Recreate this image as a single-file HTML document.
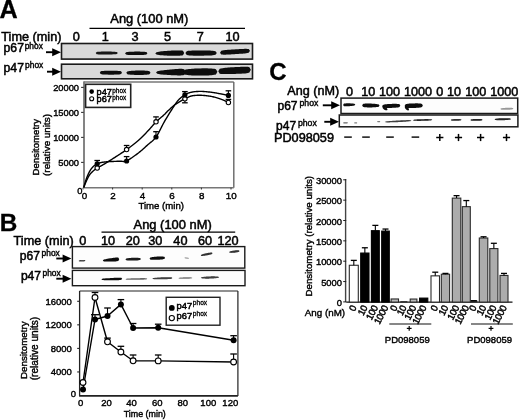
<!DOCTYPE html>
<html><head><meta charset="utf-8"><title>Figure</title>
<style>html,body{margin:0;padding:0;background:#fff;}svg{display:block;}</style></head>
<body><svg width="520" height="420" viewBox="0 0 520 420" font-family='"Liberation Sans", Arial, sans-serif'>
<defs><filter id="bl" x="-20%" y="-100%" width="140%" height="300%"><feGaussianBlur stdDeviation="0.6"/></filter></defs>
<rect width="520" height="420" fill="#fff"/>
<text x="-0.60" y="17.90" font-size="25.2" text-anchor="start" font-weight="bold" fill="#000" stroke="#000" stroke-width="0.3" >A</text>
<text x="110.30" y="23.30" font-size="12.9" text-anchor="start" font-weight="normal" fill="#000" stroke="#000" stroke-width="0.5" >Ang (100 nM)</text>
<line x1="89.50" y1="28.30" x2="245.00" y2="28.30" stroke="#000" stroke-width="1.2" />
<text x="1.30" y="40.60" font-size="12.7" text-anchor="start" font-weight="normal" fill="#000" stroke="#000" stroke-width="0.5" >Time (min)</text>
<text x="76.30" y="40.60" font-size="12.7" text-anchor="middle" font-weight="normal" fill="#000" stroke="#000" stroke-width="0.5" >0</text>
<text x="105.30" y="40.60" font-size="12.7" text-anchor="middle" font-weight="normal" fill="#000" stroke="#000" stroke-width="0.5" >1</text>
<text x="135.00" y="40.60" font-size="12.7" text-anchor="middle" font-weight="normal" fill="#000" stroke="#000" stroke-width="0.5" >3</text>
<text x="167.50" y="40.60" font-size="12.7" text-anchor="middle" font-weight="normal" fill="#000" stroke="#000" stroke-width="0.5" >5</text>
<text x="200.20" y="40.60" font-size="12.7" text-anchor="middle" font-weight="normal" fill="#000" stroke="#000" stroke-width="0.5" >7</text>
<text x="232.50" y="40.60" font-size="12.7" text-anchor="middle" font-weight="normal" fill="#000" stroke="#000" stroke-width="0.5" >10</text>
<rect x="61.50" y="43.50" width="191.00" height="15.60" fill="#d9d9d9" stroke="#1a1a1a" stroke-width="1.6" />
<rect x="61.50" y="64.20" width="191.00" height="14.60" fill="#d9d9d9" stroke="#1a1a1a" stroke-width="1.6" />
<text x="3.60" y="52.30" font-size="12.2" text-anchor="start" font-weight="normal" fill="#000" stroke="#000" stroke-width="0.5" >p67</text>
<text x="24.70" y="48.50" font-size="8.4" text-anchor="start" font-weight="normal" fill="#000" stroke="#000" stroke-width="0.4" >phox</text>
<text x="3.60" y="72.20" font-size="12.2" text-anchor="start" font-weight="normal" fill="#000" stroke="#000" stroke-width="0.5" >p47</text>
<text x="25.10" y="68.20" font-size="8.4" text-anchor="start" font-weight="normal" fill="#000" stroke="#000" stroke-width="0.4" >phox</text>
<line x1="46.00" y1="52.20" x2="53.20" y2="52.20" stroke="#000" stroke-width="1.9" />
<polygon points="61.00,52.20 52.20,48.20 52.20,56.20" fill="#000"/>
<line x1="47.00" y1="71.70" x2="53.20" y2="71.70" stroke="#000" stroke-width="1.9" />
<polygon points="61.00,71.70 52.20,67.70 52.20,75.70" fill="#000"/>
<polygon points="95.70,53.10 96.66,52.02 97.62,51.87 98.58,51.77 99.54,51.70 100.50,51.65 101.47,51.62 102.43,51.59 103.39,51.57 104.35,51.56 105.31,51.55 106.27,51.55 107.23,51.55 108.19,51.56 109.15,51.57 110.11,51.59 111.07,51.61 112.03,51.64 113.00,51.68 113.96,51.73 114.92,51.80 115.88,51.89 116.84,52.04 117.80,53.00 117.80,53.00 116.84,53.97 115.88,54.13 114.92,54.23 113.96,54.31 113.00,54.37 112.03,54.41 111.07,54.45 110.11,54.48 109.15,54.51 108.19,54.53 107.23,54.54 106.27,54.55 105.31,54.56 104.35,54.56 103.39,54.56 102.43,54.55 101.47,54.53 100.50,54.50 99.54,54.46 98.58,54.41 97.62,54.32 96.66,54.17 95.70,53.10" fill="#0a0a0a" fill-opacity="0.95" filter="url(#bl)" transform="rotate(0 106.75 53.05)"/>
<polygon points="125.10,53.40 126.07,52.17 127.04,51.99 128.01,51.88 128.98,51.80 129.95,51.75 130.92,51.70 131.89,51.67 132.86,51.64 133.83,51.63 134.80,51.61 135.77,51.60 136.73,51.60 137.70,51.60 138.67,51.60 139.64,51.61 140.61,51.63 141.58,51.65 142.55,51.69 143.52,51.74 144.49,51.81 145.46,51.91 146.43,52.08 147.40,53.30 147.40,53.30 146.43,54.53 145.46,54.71 144.49,54.82 143.52,54.90 142.55,54.95 141.58,55.00 140.61,55.03 139.64,55.06 138.67,55.07 137.70,55.09 136.73,55.10 135.77,55.10 134.80,55.10 133.83,55.10 132.86,55.09 131.89,55.07 130.92,55.05 129.95,55.01 128.98,54.96 128.01,54.89 127.04,54.79 126.07,54.62 125.10,53.40" fill="#0a0a0a" fill-opacity="1" filter="url(#bl)" transform="rotate(0 136.25 53.35)"/>
<polygon points="155.30,53.40 156.56,52.17 157.81,51.89 159.07,51.69 160.33,51.51 161.58,51.36 162.84,51.23 164.10,51.11 165.35,51.00 166.61,50.91 167.87,50.82 169.12,50.74 170.38,50.66 171.63,50.60 172.89,50.54 174.15,50.49 175.40,50.45 176.66,50.43 177.92,50.42 179.17,50.43 180.43,50.49 181.69,50.60 182.94,50.84 184.20,53.00 184.20,53.00 182.94,55.19 181.69,55.47 180.43,55.62 179.17,55.70 177.92,55.76 176.66,55.78 175.40,55.79 174.15,55.79 172.89,55.77 171.63,55.75 170.38,55.72 169.12,55.68 167.87,55.63 166.61,55.58 165.35,55.52 164.10,55.44 162.84,55.36 161.58,55.26 160.33,55.15 159.07,55.01 157.81,54.84 156.56,54.60 155.30,53.40" fill="#0a0a0a" fill-opacity="1" filter="url(#bl)" transform="rotate(0 169.75 53.20)"/>
<polygon points="185.40,53.10 186.77,51.13 188.13,50.87 189.50,50.72 190.86,50.63 192.23,50.57 193.59,50.52 194.96,50.49 196.32,50.47 197.69,50.46 199.05,50.45 200.42,50.45 201.78,50.45 203.15,50.46 204.51,50.47 205.88,50.49 207.24,50.51 208.61,50.54 209.97,50.59 211.34,50.65 212.70,50.75 214.07,50.89 215.43,51.14 216.80,53.00 216.80,53.00 215.43,54.87 214.07,55.12 212.70,55.28 211.34,55.38 209.97,55.45 208.61,55.51 207.24,55.55 205.88,55.58 204.51,55.61 203.15,55.63 201.78,55.64 200.42,55.65 199.05,55.66 197.69,55.66 196.32,55.66 194.96,55.65 193.59,55.63 192.23,55.59 190.86,55.54 189.50,55.45 188.13,55.31 186.77,55.07 185.40,53.10" fill="#0a0a0a" fill-opacity="1" filter="url(#bl)" transform="rotate(0 201.10 53.05)"/>
<polygon points="220.00,52.70 221.30,50.79 222.61,50.48 223.91,50.27 225.22,50.11 226.52,49.98 227.83,49.86 229.13,49.76 230.43,49.66 231.74,49.57 233.04,49.48 234.35,49.39 235.65,49.31 236.96,49.23 238.26,49.15 239.57,49.08 240.87,49.01 242.17,48.95 243.48,48.91 244.78,48.87 246.09,48.87 247.39,48.91 248.70,49.06 250.00,50.80 250.00,50.80 248.70,52.71 247.39,53.02 246.09,53.23 244.78,53.39 243.48,53.52 242.17,53.64 240.87,53.74 239.57,53.84 238.26,53.93 236.96,54.02 235.65,54.11 234.35,54.19 233.04,54.27 231.74,54.35 230.43,54.42 229.13,54.49 227.83,54.55 226.52,54.59 225.22,54.63 223.91,54.63 222.61,54.59 221.30,54.44 220.00,52.70" fill="#0a0a0a" fill-opacity="1" filter="url(#bl)" transform="rotate(0 235.00 51.75)"/>
<polygon points="99.80,72.70 100.77,71.31 101.73,71.12 102.70,71.00 103.66,70.93 104.63,70.87 105.59,70.83 106.56,70.80 107.52,70.78 108.49,70.76 109.45,70.76 110.42,70.75 111.38,70.75 112.35,70.76 113.31,70.76 114.28,70.78 115.24,70.80 116.21,70.83 117.17,70.87 118.14,70.93 119.10,71.00 120.07,71.12 121.03,71.31 122.00,72.70 122.00,72.70 121.03,74.09 120.07,74.28 119.10,74.40 118.14,74.47 117.17,74.53 116.21,74.57 115.24,74.60 114.28,74.62 113.31,74.64 112.35,74.64 111.38,74.65 110.42,74.65 109.45,74.64 108.49,74.64 107.52,74.62 106.56,74.60 105.59,74.57 104.63,74.53 103.66,74.47 102.70,74.40 101.73,74.28 100.77,74.09 99.80,72.70" fill="#0a0a0a" fill-opacity="1" filter="url(#bl)" transform="rotate(0 110.90 72.70)"/>
<polygon points="126.30,72.80 127.35,71.40 128.40,71.16 129.46,71.01 130.51,70.89 131.56,70.81 132.61,70.74 133.67,70.68 134.72,70.64 135.77,70.60 136.82,70.57 137.87,70.56 138.93,70.55 139.98,70.54 141.03,70.55 142.08,70.56 143.13,70.58 144.19,70.62 145.24,70.67 146.29,70.74 147.34,70.83 148.40,70.97 149.45,71.20 150.50,72.70 150.50,72.70 149.45,74.21 148.40,74.44 147.34,74.59 146.29,74.70 145.24,74.77 144.19,74.83 143.13,74.88 142.08,74.91 141.03,74.93 139.98,74.94 138.93,74.95 137.87,74.95 136.82,74.94 135.77,74.92 134.72,74.90 133.67,74.86 132.61,74.81 131.56,74.75 130.51,74.67 129.46,74.56 128.40,74.42 127.35,74.19 126.30,72.80" fill="#0a0a0a" fill-opacity="1" filter="url(#bl)" transform="rotate(0 138.40 72.75)"/>
<polygon points="156.00,72.60 157.28,71.29 158.57,71.00 159.85,70.77 161.13,70.57 162.41,70.40 163.70,70.24 164.98,70.09 166.26,69.95 167.54,69.81 168.83,69.68 170.11,69.56 171.39,69.44 172.67,69.33 173.96,69.22 175.24,69.11 176.52,69.02 177.80,68.93 179.09,68.86 180.37,68.82 181.65,68.82 182.93,68.90 184.22,69.15 185.50,72.00 185.50,72.00 184.22,74.91 182.93,75.21 181.65,75.34 180.37,75.39 179.09,75.40 177.80,75.38 176.52,75.35 175.24,75.30 173.96,75.25 172.67,75.20 171.39,75.13 170.11,75.07 168.83,74.99 167.54,74.92 166.26,74.84 164.98,74.75 163.70,74.65 162.41,74.54 161.13,74.42 159.85,74.27 158.57,74.10 157.28,73.85 156.00,72.60" fill="#0a0a0a" fill-opacity="1" filter="url(#bl)" transform="rotate(0 170.75 72.30)"/>
<polygon points="183.00,72.20 184.50,69.89 185.99,69.50 187.49,69.24 188.98,69.05 190.48,68.90 191.97,68.78 193.47,68.68 194.97,68.59 196.46,68.52 197.96,68.47 199.45,68.42 200.95,68.38 202.44,68.36 203.94,68.34 205.43,68.34 206.93,68.35 208.43,68.38 209.92,68.44 211.42,68.52 212.91,68.65 214.41,68.85 215.90,69.20 217.40,71.80 217.40,71.80 215.90,74.43 214.41,74.82 212.91,75.06 211.42,75.22 209.92,75.34 208.43,75.43 206.93,75.49 205.43,75.54 203.94,75.57 202.44,75.59 200.95,75.60 199.45,75.60 197.96,75.59 196.46,75.56 194.97,75.53 193.47,75.48 191.97,75.41 190.48,75.33 188.98,75.21 187.49,75.05 185.99,74.83 184.50,74.48 183.00,72.20" fill="#0a0a0a" fill-opacity="1" filter="url(#bl)" transform="rotate(0 200.20 72.00)"/>
<polygon points="218.30,71.30 219.71,68.82 221.13,68.43 222.54,68.18 223.95,67.99 225.37,67.83 226.78,67.70 228.19,67.58 229.60,67.47 231.02,67.37 232.43,67.28 233.84,67.19 235.26,67.11 236.67,67.03 238.08,66.96 239.50,66.89 240.91,66.83 242.32,66.78 243.73,66.74 245.15,66.74 246.56,66.77 247.97,66.87 249.39,67.13 250.80,69.80 250.80,69.80 249.39,72.60 247.97,72.99 246.56,73.22 245.15,73.39 243.73,73.51 242.32,73.61 240.91,73.69 239.50,73.76 238.08,73.82 236.67,73.87 235.26,73.93 233.84,73.97 232.43,74.01 231.02,74.05 229.60,74.08 228.19,74.11 226.78,74.12 225.37,74.12 223.95,74.09 222.54,74.03 221.13,73.90 219.71,73.65 218.30,71.30" fill="#0a0a0a" fill-opacity="1" filter="url(#bl)" transform="rotate(0 234.55 70.55)"/>
<line x1="83.70" y1="82.00" x2="233.80" y2="82.00" stroke="#777" stroke-width="1.5" />
<line x1="233.80" y1="82.00" x2="233.80" y2="187.70" stroke="#666" stroke-width="1.4" />
<line x1="84.00" y1="81.50" x2="84.00" y2="187.70" stroke="#777" stroke-width="1.8" />
<line x1="83.70" y1="187.70" x2="233.80" y2="187.70" stroke="#777" stroke-width="1.6" />
<line x1="81.10" y1="162.40" x2="83.70" y2="162.40" stroke="#333" stroke-width="1.1" />
<text x="79.00" y="165.80" font-size="9.3" text-anchor="end" font-weight="normal" fill="#000" stroke="#000" stroke-width="0.4" >5000</text>
<line x1="81.10" y1="137.40" x2="83.70" y2="137.40" stroke="#333" stroke-width="1.1" />
<text x="79.00" y="140.80" font-size="9.3" text-anchor="end" font-weight="normal" fill="#000" stroke="#000" stroke-width="0.4" >10000</text>
<line x1="81.10" y1="112.40" x2="83.70" y2="112.40" stroke="#333" stroke-width="1.1" />
<text x="79.00" y="115.80" font-size="9.3" text-anchor="end" font-weight="normal" fill="#000" stroke="#000" stroke-width="0.4" >15000</text>
<line x1="81.10" y1="87.40" x2="83.70" y2="87.40" stroke="#333" stroke-width="1.1" />
<text x="79.00" y="90.80" font-size="9.3" text-anchor="end" font-weight="normal" fill="#000" stroke="#000" stroke-width="0.4" >20000</text>
<text x="82.40" y="194.20" font-size="9.3" text-anchor="end" font-weight="normal" fill="#000" stroke="#000" stroke-width="0.4" >0</text>
<line x1="83.00" y1="187.70" x2="83.00" y2="189.50" stroke="#333" stroke-width="1" />
<text x="84.60" y="199.20" font-size="9.8" text-anchor="middle" font-weight="normal" fill="#000" stroke="#000" stroke-width="0.4" >0</text>
<line x1="112.60" y1="187.70" x2="112.60" y2="189.50" stroke="#333" stroke-width="1" />
<text x="112.90" y="199.20" font-size="9.8" text-anchor="middle" font-weight="normal" fill="#000" stroke="#000" stroke-width="0.4" >2</text>
<line x1="142.20" y1="187.70" x2="142.20" y2="189.50" stroke="#333" stroke-width="1" />
<text x="142.50" y="199.20" font-size="9.8" text-anchor="middle" font-weight="normal" fill="#000" stroke="#000" stroke-width="0.4" >4</text>
<line x1="171.80" y1="187.70" x2="171.80" y2="189.50" stroke="#333" stroke-width="1" />
<text x="172.10" y="199.20" font-size="9.8" text-anchor="middle" font-weight="normal" fill="#000" stroke="#000" stroke-width="0.4" >6</text>
<line x1="201.40" y1="187.70" x2="201.40" y2="189.50" stroke="#333" stroke-width="1" />
<text x="201.70" y="199.20" font-size="9.8" text-anchor="middle" font-weight="normal" fill="#000" stroke="#000" stroke-width="0.4" >8</text>
<line x1="231.00" y1="187.70" x2="231.00" y2="189.50" stroke="#333" stroke-width="1" />
<text x="231.30" y="199.20" font-size="9.8" text-anchor="middle" font-weight="normal" fill="#000" stroke="#000" stroke-width="0.4" >10</text>
<text x="161.20" y="209.40" font-size="9.6" text-anchor="middle" font-weight="normal" fill="#000" stroke="#000" stroke-width="0.4" >Time (min)</text>
<text x="0.00" y="0.00" font-size="9.6" text-anchor="middle" font-weight="normal" fill="#000" stroke="#000" stroke-width="0.4" transform="translate(39.0 147.2) rotate(-90)">Densitometry</text>
<text x="0.00" y="0.00" font-size="9.85" text-anchor="middle" font-weight="normal" fill="#000" stroke="#000" stroke-width="0.4" transform="translate(50.4 145.0) rotate(-90)">(relative units)</text>
<rect x="85.60" y="84.30" width="45.10" height="23.10" fill="#fff" stroke="#222" stroke-width="1.6" />
<circle cx="91.70" cy="91.60" r="2.3" fill="#000"/>
<circle cx="91.70" cy="98.80" r="2.0" fill="#fff" stroke="#000" stroke-width="1.1"/>
<text x="96.60" y="95.10" font-size="9.2" text-anchor="start" font-weight="normal" fill="#000" stroke="#000" stroke-width="0.5" >p47</text>
<text x="112.30" y="93.00" font-size="6.4" text-anchor="start" font-weight="normal" fill="#000" stroke="#000" stroke-width="0.3" >phox</text>
<text x="96.60" y="101.80" font-size="9.2" text-anchor="start" font-weight="normal" fill="#000" stroke="#000" stroke-width="0.5" >p67</text>
<text x="112.30" y="100.00" font-size="6.4" text-anchor="start" font-weight="normal" fill="#000" stroke="#000" stroke-width="0.3" >phox</text>
<polyline points="83.70,187.60 83.91,186.90 84.11,186.19 84.31,185.48 84.50,184.77 84.70,184.06 84.90,183.35 85.10,182.64 85.31,181.94 85.52,181.24 85.74,180.55 85.96,179.87 86.20,179.20 86.45,178.53 86.70,177.86 86.96,177.18 87.23,176.51 87.50,175.84 87.78,175.19 88.06,174.54 88.34,173.91 88.63,173.30 88.92,172.71 89.21,172.14 89.50,171.60 89.79,171.09 90.09,170.59 90.39,170.12 90.69,169.66 91.00,169.22 91.31,168.80 91.62,168.40 91.93,168.01 92.24,167.63 92.56,167.28 92.88,166.93 93.20,166.60 93.52,166.29 93.83,165.99 94.14,165.72 94.44,165.46 94.75,165.22 95.07,164.99 95.39,164.77 95.72,164.56 96.07,164.36 96.43,164.17 96.80,163.98 97.20,163.80 97.61,163.62 98.03,163.45 98.45,163.29 98.88,163.14 99.33,163.00 99.79,162.87 100.27,162.74 100.76,162.62 101.28,162.51 101.83,162.40 102.40,162.30 103.00,162.20 103.64,162.11 104.33,162.03 105.05,161.95 105.80,161.89 106.57,161.82 107.36,161.77 108.16,161.72 108.96,161.67 109.75,161.63 110.52,161.58 111.27,161.54 112.00,161.50 112.71,161.46 113.41,161.43 114.10,161.40 114.79,161.37 115.48,161.35 116.15,161.33 116.82,161.31 117.47,161.29 118.12,161.27 118.76,161.25 119.39,161.23 120.00,161.20 120.58,161.19 121.12,161.22 121.63,161.28 122.12,161.34 122.60,161.41 123.08,161.46 123.57,161.48 124.09,161.47 124.64,161.41 125.23,161.28 125.88,161.09 126.60,160.80 127.39,160.42 128.26,159.95 129.18,159.42 130.16,158.81 131.16,158.16 132.19,157.48 133.22,156.76 134.26,156.03 135.27,155.30 136.26,154.57 137.21,153.87 138.10,153.20 138.95,152.55 139.77,151.89 140.57,151.23 141.36,150.57 142.12,149.91 142.88,149.24 143.62,148.57 144.36,147.90 145.09,147.22 145.82,146.55 146.56,145.87 147.30,145.20 148.04,144.55 148.78,143.93 149.52,143.33 150.25,142.74 150.98,142.15 151.71,141.55 152.43,140.92 153.15,140.26 153.86,139.55 154.58,138.77 155.29,137.93 156.00,137.00 156.71,135.97 157.42,134.83 158.13,133.61 158.84,132.33 159.54,130.99 160.24,129.62 160.94,128.25 161.63,126.87 162.31,125.52 162.98,124.22 163.65,122.97 164.30,121.80 164.94,120.69 165.57,119.61 166.19,118.56 166.81,117.53 167.41,116.53 168.01,115.54 168.61,114.58 169.19,113.64 169.78,112.71 170.35,111.79 170.93,110.89 171.50,110.00 172.06,109.12 172.62,108.24 173.16,107.37 173.70,106.52 174.24,105.69 174.77,104.87 175.30,104.07 175.83,103.30 176.36,102.55 176.90,101.84 177.45,101.15 178.00,100.50 178.56,99.88 179.13,99.30 179.69,98.74 180.27,98.21 180.84,97.70 181.42,97.23 182.00,96.77 182.58,96.34 183.16,95.92 183.74,95.53 184.32,95.16 184.90,94.80 185.47,94.46 186.03,94.15 186.59,93.87 187.14,93.60 187.69,93.36 188.24,93.14 188.81,92.93 189.39,92.74 189.98,92.56 190.59,92.40 191.23,92.25 191.90,92.10 192.59,91.97 193.31,91.85 194.05,91.74 194.80,91.66 195.58,91.58 196.36,91.52 197.16,91.47 197.97,91.43 198.80,91.41 199.62,91.40 200.46,91.39 201.30,91.40 202.16,91.42 203.04,91.46 203.93,91.52 204.85,91.59 205.77,91.67 206.70,91.76 207.63,91.85 208.55,91.96 209.47,92.07 210.36,92.18 211.24,92.29 212.10,92.40 212.94,92.51 213.78,92.63 214.61,92.76 215.43,92.90 216.24,93.03 217.04,93.18 217.83,93.32 218.60,93.46 219.36,93.60 220.09,93.74 220.81,93.87 221.50,94.00 222.16,94.12 222.79,94.24 223.40,94.36 223.99,94.48 224.55,94.60 225.11,94.71 225.65,94.83 226.19,94.94 226.73,95.05 227.28,95.17 227.83,95.28 228.40,95.40" fill="none" stroke="#000" stroke-width="1.4" stroke-linejoin="round"/>
<polyline points="83.70,187.60 83.91,187.08 84.11,186.57 84.31,186.05 84.50,185.54 84.70,185.03 84.90,184.51 85.10,184.00 85.31,183.48 85.52,182.96 85.74,182.44 85.96,181.92 86.20,181.40 86.45,180.87 86.70,180.32 86.96,179.76 87.23,179.19 87.50,178.63 87.78,178.06 88.06,177.51 88.34,176.96 88.63,176.44 88.92,175.93 89.21,175.45 89.50,175.00 89.79,174.58 90.09,174.18 90.39,173.81 90.69,173.45 91.00,173.11 91.31,172.79 91.62,172.47 91.93,172.17 92.24,171.87 92.56,171.58 92.88,171.29 93.20,171.00 93.51,170.72 93.81,170.46 94.09,170.21 94.37,169.98 94.65,169.75 94.94,169.53 95.25,169.30 95.57,169.07 95.93,168.83 96.31,168.57 96.73,168.30 97.20,168.00 97.71,167.69 98.25,167.37 98.83,167.04 99.44,166.71 100.07,166.36 100.73,166.01 101.40,165.64 102.10,165.26 102.81,164.87 103.53,164.46 104.26,164.04 105.00,163.60 105.75,163.15 106.52,162.68 107.31,162.19 108.11,161.69 108.93,161.18 109.76,160.66 110.61,160.12 111.47,159.57 112.34,159.02 113.22,158.45 114.10,157.88 115.00,157.30 115.91,156.71 116.84,156.11 117.79,155.50 118.76,154.88 119.73,154.25 120.71,153.61 121.70,152.96 122.69,152.30 123.68,151.64 124.66,150.96 125.64,150.28 126.60,149.60 127.56,148.91 128.54,148.20 129.51,147.49 130.49,146.76 131.47,146.03 132.44,145.29 133.41,144.55 134.36,143.80 135.30,143.05 136.22,142.30 137.12,141.55 138.00,140.80 138.85,140.05 139.68,139.29 140.49,138.54 141.28,137.78 142.05,137.02 142.82,136.25 143.57,135.48 144.32,134.71 145.07,133.94 145.81,133.16 146.55,132.38 147.30,131.60 148.05,130.81 148.79,130.00 149.53,129.18 150.26,128.35 150.99,127.52 151.71,126.69 152.43,125.86 153.15,125.05 153.87,124.25 154.58,123.48 155.29,122.72 156.00,122.00 156.72,121.30 157.46,120.60 158.21,119.92 158.96,119.24 159.71,118.59 160.45,117.95 161.17,117.33 161.87,116.73 162.54,116.16 163.18,115.61 163.76,115.09 164.30,114.60 164.77,114.15 165.17,113.76 165.50,113.41 165.80,113.10 166.06,112.81 166.31,112.53 166.56,112.26 166.81,111.98 167.09,111.68 167.40,111.36 167.77,111.00 168.20,110.60 168.68,110.15 169.20,109.67 169.74,109.17 170.30,108.64 170.89,108.10 171.51,107.54 172.14,106.98 172.79,106.43 173.45,105.87 174.12,105.33 174.81,104.80 175.50,104.30 176.22,103.81 176.97,103.31 177.76,102.81 178.57,102.31 179.39,101.82 180.22,101.34 181.05,100.87 181.87,100.41 182.67,99.97 183.45,99.56 184.19,99.16 184.90,98.80 185.56,98.46 186.18,98.14 186.76,97.84 187.32,97.56 187.87,97.29 188.40,97.04 188.93,96.81 189.48,96.60 190.04,96.40 190.62,96.22 191.24,96.05 191.90,95.90 192.59,95.76 193.31,95.64 194.05,95.54 194.80,95.46 195.58,95.39 196.36,95.34 197.16,95.30 197.97,95.27 198.80,95.26 199.62,95.26 200.46,95.28 201.30,95.30 202.16,95.34 203.04,95.39 203.93,95.46 204.85,95.54 205.77,95.63 206.70,95.74 207.63,95.86 208.55,95.99 209.47,96.12 210.36,96.27 211.24,96.43 212.10,96.60 212.94,96.78 213.78,96.98 214.61,97.19 215.43,97.41 216.24,97.65 217.04,97.89 217.83,98.14 218.60,98.39 219.36,98.64 220.09,98.90 220.81,99.15 221.50,99.40 222.16,99.65 222.79,99.90 223.40,100.15 223.99,100.41 224.55,100.67 225.11,100.93 225.65,101.19 226.19,101.46 226.73,101.72 227.28,101.98 227.83,102.24 228.40,102.50" fill="none" stroke="#000" stroke-width="1.4" stroke-linejoin="round"/>
<line x1="97.20" y1="163.80" x2="97.20" y2="160.50" stroke="#000" stroke-width="1.1" />
<line x1="94.40" y1="160.50" x2="100.00" y2="160.50" stroke="#000" stroke-width="1.3" />
<line x1="126.60" y1="161.00" x2="126.60" y2="156.60" stroke="#000" stroke-width="1.1" />
<line x1="123.80" y1="156.60" x2="129.40" y2="156.60" stroke="#000" stroke-width="1.3" />
<line x1="156.00" y1="137.00" x2="156.00" y2="131.70" stroke="#000" stroke-width="1.1" />
<line x1="153.20" y1="131.70" x2="158.80" y2="131.70" stroke="#000" stroke-width="1.3" />
<line x1="184.90" y1="94.80" x2="184.90" y2="91.60" stroke="#000" stroke-width="1.1" />
<line x1="182.10" y1="91.60" x2="187.70" y2="91.60" stroke="#000" stroke-width="1.3" />
<line x1="228.40" y1="95.40" x2="228.40" y2="90.80" stroke="#000" stroke-width="1.1" />
<line x1="225.60" y1="90.80" x2="231.20" y2="90.80" stroke="#000" stroke-width="1.3" />
<line x1="126.60" y1="149.60" x2="126.60" y2="145.50" stroke="#000" stroke-width="1.1" />
<line x1="123.80" y1="145.50" x2="129.40" y2="145.50" stroke="#000" stroke-width="1.3" />
<line x1="156.00" y1="121.80" x2="156.00" y2="116.90" stroke="#000" stroke-width="1.1" />
<line x1="153.20" y1="116.90" x2="158.80" y2="116.90" stroke="#000" stroke-width="1.3" />
<line x1="184.90" y1="98.80" x2="184.90" y2="102.80" stroke="#000" stroke-width="1.1" />
<line x1="182.10" y1="102.80" x2="187.70" y2="102.80" stroke="#000" stroke-width="1.3" />
<line x1="228.40" y1="102.50" x2="228.40" y2="99.40" stroke="#000" stroke-width="1.1" />
<line x1="225.60" y1="99.40" x2="231.20" y2="99.40" stroke="#000" stroke-width="1.3" />
<circle cx="97.20" cy="168.00" r="2.2" fill="#fff" stroke="#000" stroke-width="1.1"/>
<circle cx="126.60" cy="149.60" r="2.2" fill="#fff" stroke="#000" stroke-width="1.1"/>
<circle cx="156.00" cy="121.80" r="2.2" fill="#fff" stroke="#000" stroke-width="1.1"/>
<circle cx="184.90" cy="98.80" r="2.2" fill="#fff" stroke="#000" stroke-width="1.1"/>
<circle cx="228.40" cy="102.50" r="2.2" fill="#fff" stroke="#000" stroke-width="1.1"/>
<circle cx="97.20" cy="163.80" r="2.6" fill="#000"/>
<circle cx="126.60" cy="161.00" r="2.6" fill="#000"/>
<circle cx="156.00" cy="137.00" r="2.6" fill="#000"/>
<circle cx="184.90" cy="94.80" r="2.6" fill="#000"/>
<circle cx="228.40" cy="95.40" r="2.6" fill="#000"/>
<text x="-0.30" y="230.90" font-size="24.3" text-anchor="start" font-weight="bold" fill="#000" stroke="#000" stroke-width="0.3" >B</text>
<text x="133.60" y="229.20" font-size="12.9" text-anchor="start" font-weight="normal" fill="#000" stroke="#000" stroke-width="0.5" >Ang (100 nM)</text>
<line x1="101.50" y1="232.20" x2="235.20" y2="232.20" stroke="#000" stroke-width="1.2" />
<text x="13.60" y="244.50" font-size="12.7" text-anchor="start" font-weight="normal" fill="#000" stroke="#000" stroke-width="0.5" >Time (min)</text>
<text x="82.80" y="244.60" font-size="12.7" text-anchor="middle" font-weight="normal" fill="#000" stroke="#000" stroke-width="0.5" >0</text>
<text x="108.00" y="244.60" font-size="12.7" text-anchor="middle" font-weight="normal" fill="#000" stroke="#000" stroke-width="0.5" >10</text>
<text x="132.80" y="244.60" font-size="12.7" text-anchor="middle" font-weight="normal" fill="#000" stroke="#000" stroke-width="0.5" >20</text>
<text x="155.30" y="244.60" font-size="12.7" text-anchor="middle" font-weight="normal" fill="#000" stroke="#000" stroke-width="0.5" >30</text>
<text x="180.40" y="244.60" font-size="12.7" text-anchor="middle" font-weight="normal" fill="#000" stroke="#000" stroke-width="0.5" >40</text>
<text x="205.10" y="244.60" font-size="12.7" text-anchor="middle" font-weight="normal" fill="#000" stroke="#000" stroke-width="0.5" >60</text>
<text x="228.10" y="244.60" font-size="12.7" text-anchor="middle" font-weight="normal" fill="#000" stroke="#000" stroke-width="0.5" >120</text>
<rect x="72.40" y="246.60" width="172.40" height="21.50" fill="#fdfdfd" stroke="#1a1a1a" stroke-width="1.4" />
<rect x="72.40" y="270.40" width="172.60" height="15.30" fill="#fdfdfd" stroke="#1a1a1a" stroke-width="1.4" />
<text x="19.80" y="259.60" font-size="12.1" text-anchor="start" font-weight="normal" fill="#000" stroke="#000" stroke-width="0.5" >p67</text>
<text x="41.60" y="256.10" font-size="8.4" text-anchor="start" font-weight="normal" fill="#000" stroke="#000" stroke-width="0.4" >phox</text>
<text x="20.90" y="279.60" font-size="12.1" text-anchor="start" font-weight="normal" fill="#000" stroke="#000" stroke-width="0.5" >p47</text>
<text x="42.50" y="276.30" font-size="8.4" text-anchor="start" font-weight="normal" fill="#000" stroke="#000" stroke-width="0.4" >phox</text>
<line x1="56.30" y1="258.50" x2="63.60" y2="258.50" stroke="#000" stroke-width="1.9" />
<polygon points="71.40,258.50 62.60,254.50 62.60,262.50" fill="#000"/>
<line x1="56.30" y1="278.70" x2="63.60" y2="278.70" stroke="#000" stroke-width="1.9" />
<polygon points="71.40,278.70 62.60,274.70 62.60,282.70" fill="#000"/>
<polygon points="78.70,260.90 78.99,260.42 79.28,260.31 79.57,260.23 79.87,260.17 80.16,260.12 80.45,260.08 80.74,260.04 81.03,260.02 81.32,259.99 81.61,259.97 81.90,259.96 82.20,259.94 82.49,259.93 82.78,259.93 83.07,259.92 83.36,259.93 83.65,259.93 83.94,259.95 84.23,259.97 84.53,260.01 84.82,260.06 85.11,260.14 85.40,260.60 85.40,260.60 85.11,261.08 84.82,261.19 84.53,261.27 84.23,261.33 83.94,261.38 83.65,261.42 83.36,261.46 83.07,261.48 82.78,261.51 82.49,261.53 82.20,261.54 81.90,261.56 81.61,261.57 81.32,261.57 81.03,261.58 80.74,261.57 80.45,261.57 80.16,261.55 79.87,261.53 79.57,261.49 79.28,261.44 78.99,261.36 78.70,260.90" fill="#0a0a0a" fill-opacity="0.75" filter="url(#bl)" transform="rotate(0 82.05 260.75)"/>
<polygon points="102.80,260.60 103.51,259.79 104.23,259.55 104.94,259.35 105.65,259.18 106.37,259.02 107.08,258.87 107.79,258.74 108.50,258.61 109.22,258.49 109.93,258.37 110.64,258.26 111.36,258.15 112.07,258.04 112.78,257.93 113.50,257.84 114.21,257.74 114.92,257.66 115.63,257.60 116.35,257.55 117.06,257.54 117.77,257.58 118.49,257.74 119.20,259.20 119.20,259.20 118.49,260.79 117.77,261.06 117.06,261.22 116.35,261.33 115.63,261.41 114.92,261.47 114.21,261.51 113.50,261.54 112.78,261.56 112.07,261.58 111.36,261.59 110.64,261.61 109.93,261.61 109.22,261.62 108.50,261.62 107.79,261.61 107.08,261.60 106.37,261.57 105.65,261.54 104.94,261.48 104.23,261.41 103.51,261.29 102.80,260.60" fill="#0a0a0a" fill-opacity="1" filter="url(#bl)" transform="rotate(0 111.00 259.90)"/>
<polygon points="125.50,259.40 126.17,258.58 126.83,258.40 127.50,258.27 128.16,258.17 128.83,258.08 129.49,258.02 130.16,257.96 130.82,257.91 131.49,257.87 132.15,257.84 132.82,257.81 133.48,257.79 134.15,257.77 134.81,257.76 135.48,257.75 136.14,257.75 136.81,257.76 137.47,257.78 138.14,257.82 138.80,257.88 139.47,257.97 140.13,258.12 140.80,259.00 140.80,259.00 140.13,259.92 139.47,260.10 138.80,260.23 138.14,260.32 137.47,260.39 136.81,260.45 136.14,260.49 135.48,260.53 134.81,260.56 134.15,260.58 133.48,260.59 132.82,260.61 132.15,260.61 131.49,260.61 130.82,260.61 130.16,260.60 129.49,260.57 128.83,260.54 128.16,260.49 127.50,260.43 126.83,260.33 126.17,260.18 125.50,259.40" fill="#0a0a0a" fill-opacity="0.95" filter="url(#bl)" transform="rotate(0 133.15 259.20)"/>
<polygon points="149.60,258.60 150.27,257.61 150.94,257.39 151.61,257.23 152.28,257.11 152.95,257.00 153.62,256.92 154.29,256.84 154.96,256.78 155.63,256.72 156.30,256.67 156.97,256.62 157.63,256.58 158.30,256.54 158.97,256.51 159.64,256.49 160.31,256.47 160.98,256.47 161.65,256.47 162.32,256.50 162.99,256.54 163.66,256.63 164.33,256.79 165.00,257.80 165.00,257.80 164.33,258.88 163.66,259.11 162.99,259.26 162.32,259.38 161.65,259.48 160.98,259.55 160.31,259.62 159.64,259.67 158.97,259.71 158.30,259.75 157.63,259.79 156.97,259.81 156.30,259.84 155.63,259.86 154.96,259.87 154.29,259.87 153.62,259.87 152.95,259.85 152.28,259.81 151.61,259.76 150.94,259.67 150.27,259.52 149.60,258.60" fill="#0a0a0a" fill-opacity="1" filter="url(#bl)" transform="rotate(0 157.30 258.20)"/>
<polygon points="184.50,257.80 184.70,257.43 184.89,257.37 185.09,257.34 185.28,257.32 185.48,257.31 185.67,257.31 185.87,257.32 186.07,257.33 186.26,257.34 186.46,257.36 186.65,257.39 186.85,257.41 187.04,257.44 187.24,257.48 187.43,257.51 187.63,257.55 187.83,257.60 188.02,257.65 188.22,257.71 188.41,257.78 188.61,257.87 188.80,257.98 189.00,258.40 189.00,258.40 188.80,258.77 188.61,258.83 188.41,258.86 188.22,258.88 188.02,258.89 187.83,258.89 187.63,258.88 187.43,258.87 187.24,258.86 187.04,258.84 186.85,258.81 186.65,258.79 186.46,258.76 186.26,258.72 186.07,258.69 185.87,258.65 185.67,258.60 185.48,258.55 185.28,258.49 185.09,258.42 184.89,258.33 184.70,258.22 184.50,257.80" fill="#0a0a0a" fill-opacity="0.35" filter="url(#bl)" transform="rotate(0 186.75 258.10)"/>
<polygon points="200.80,255.40 201.31,254.72 201.82,254.50 202.33,254.31 202.83,254.14 203.34,253.99 203.85,253.84 204.36,253.71 204.87,253.59 205.38,253.47 205.89,253.36 206.40,253.25 206.90,253.15 207.41,253.05 207.92,252.96 208.43,252.87 208.94,252.79 209.45,252.72 209.96,252.66 210.47,252.62 210.97,252.58 211.48,252.58 211.99,252.62 212.50,253.20 212.50,253.20 211.99,253.97 211.48,254.20 210.97,254.39 210.47,254.55 209.96,254.69 209.45,254.82 208.94,254.94 208.43,255.06 207.92,255.16 207.41,255.26 206.90,255.35 206.40,255.44 205.89,255.53 205.38,255.61 204.87,255.68 204.36,255.75 203.85,255.81 203.34,255.86 202.83,255.90 202.33,255.92 201.82,255.92 201.31,255.88 200.80,255.40" fill="#0a0a0a" fill-opacity="0.85" filter="url(#bl)" transform="rotate(0 206.65 254.30)"/>
<polygon points="229.20,252.20 229.65,251.57 230.10,251.38 230.54,251.24 230.99,251.11 231.44,251.00 231.89,250.90 232.33,250.82 232.78,250.73 233.23,250.66 233.68,250.59 234.13,250.53 234.57,250.47 235.02,250.42 235.47,250.37 235.92,250.33 236.37,250.29 236.81,250.26 237.26,250.25 237.71,250.24 238.16,250.25 238.60,250.29 239.05,250.38 239.50,251.00 239.50,251.00 239.05,251.73 238.60,251.92 238.16,252.06 237.71,252.18 237.26,252.28 236.81,252.36 236.37,252.44 235.92,252.51 235.47,252.57 235.02,252.63 234.57,252.68 234.13,252.72 233.68,252.76 233.23,252.80 232.78,252.83 232.33,252.85 231.89,252.87 231.44,252.88 230.99,252.87 230.54,252.85 230.10,252.81 229.65,252.73 229.20,252.20" fill="#0a0a0a" fill-opacity="0.85" filter="url(#bl)" transform="rotate(0 234.35 251.60)"/>
<polygon points="101.40,279.40 102.30,278.75 103.21,278.61 104.11,278.51 105.02,278.43 105.92,278.36 106.83,278.29 107.73,278.24 108.63,278.18 109.54,278.13 110.44,278.08 111.35,278.03 112.25,277.97 113.16,277.92 114.06,277.87 114.97,277.82 115.87,277.78 116.77,277.74 117.68,277.70 118.58,277.68 119.49,277.68 120.39,277.71 121.30,277.81 122.20,278.80 122.20,278.80 121.30,279.84 120.39,279.99 119.49,280.08 118.58,280.13 117.68,280.16 116.77,280.18 115.87,280.19 114.97,280.19 114.06,280.20 113.16,280.20 112.25,280.20 111.35,280.20 110.44,280.20 109.54,280.20 108.63,280.20 107.73,280.20 106.83,280.19 105.92,280.18 105.02,280.16 104.11,280.14 103.21,280.09 102.30,280.00 101.40,279.40" fill="#0a0a0a" fill-opacity="1" filter="url(#bl)" transform="rotate(0 111.80 279.10)"/>
<polygon points="125.50,279.20 126.45,278.70 127.40,278.59 128.34,278.52 129.29,278.45 130.24,278.41 131.19,278.36 132.13,278.33 133.08,278.29 134.03,278.26 134.98,278.24 135.93,278.21 136.87,278.19 137.82,278.17 138.77,278.15 139.72,278.13 140.67,278.11 141.61,278.10 142.56,278.10 143.51,278.11 144.46,278.12 145.40,278.16 146.35,278.24 147.30,278.80 147.30,278.80 146.35,279.40 145.40,279.51 144.46,279.58 143.51,279.63 142.56,279.67 141.61,279.70 140.67,279.73 139.72,279.75 138.77,279.77 137.82,279.78 136.87,279.79 135.93,279.81 134.98,279.81 134.03,279.82 133.08,279.83 132.13,279.83 131.19,279.83 130.24,279.82 129.29,279.81 128.34,279.78 127.40,279.74 126.45,279.67 125.50,279.20" fill="#0a0a0a" fill-opacity="0.6" filter="url(#bl)" transform="rotate(0 136.40 279.00)"/>
<polygon points="152.30,278.60 153.17,278.05 154.05,277.91 154.92,277.81 155.80,277.72 156.67,277.64 157.54,277.57 158.42,277.51 159.29,277.46 160.17,277.41 161.04,277.36 161.91,277.32 162.79,277.28 163.66,277.25 164.53,277.21 165.41,277.19 166.28,277.16 167.16,277.15 168.03,277.14 168.90,277.15 169.78,277.17 170.65,277.22 171.53,277.31 172.40,278.00 172.40,278.00 171.53,278.74 170.65,278.89 169.78,278.99 168.90,279.06 168.03,279.12 167.16,279.16 166.28,279.20 165.41,279.23 164.53,279.26 163.66,279.28 162.79,279.29 161.91,279.31 161.04,279.32 160.17,279.32 159.29,279.33 158.42,279.32 157.54,279.32 156.67,279.30 155.80,279.28 154.92,279.24 154.05,279.18 153.17,279.09 152.30,278.60" fill="#0a0a0a" fill-opacity="0.8" filter="url(#bl)" transform="rotate(0 162.35 278.30)"/>
<polygon points="178.40,278.20 179.01,277.76 179.62,277.65 180.23,277.58 180.83,277.52 181.44,277.47 182.05,277.43 182.66,277.39 183.27,277.37 183.88,277.34 184.49,277.32 185.10,277.31 185.70,277.29 186.31,277.28 186.92,277.28 187.53,277.27 188.14,277.28 188.75,277.28 189.36,277.30 189.97,277.32 190.57,277.35 191.18,277.40 191.79,277.48 192.40,277.90 192.40,277.90 191.79,278.34 191.18,278.45 190.57,278.52 189.97,278.58 189.36,278.63 188.75,278.67 188.14,278.71 187.53,278.73 186.92,278.76 186.31,278.78 185.70,278.79 185.10,278.81 184.49,278.82 183.88,278.82 183.27,278.83 182.66,278.82 182.05,278.82 181.44,278.80 180.83,278.78 180.23,278.75 179.62,278.70 179.01,278.62 178.40,278.20" fill="#0a0a0a" fill-opacity="0.55" filter="url(#bl)" transform="rotate(0 185.40 278.05)"/>
<polygon points="200.80,277.80 201.60,277.21 202.40,277.05 203.20,276.92 204.00,276.81 204.80,276.73 205.60,276.65 206.40,276.59 207.20,276.53 208.00,276.49 208.80,276.45 209.60,276.41 210.40,276.39 211.20,276.37 212.00,276.35 212.80,276.35 213.60,276.35 214.40,276.36 215.20,276.39 216.00,276.42 216.80,276.48 217.60,276.55 218.40,276.66 219.20,277.20 219.20,277.20 218.40,277.79 217.60,277.95 216.80,278.08 216.00,278.19 215.20,278.27 214.40,278.35 213.60,278.41 212.80,278.47 212.00,278.51 211.20,278.55 210.40,278.59 209.60,278.61 208.80,278.63 208.00,278.65 207.20,278.65 206.40,278.65 205.60,278.64 204.80,278.61 204.00,278.58 203.20,278.52 202.40,278.45 201.60,278.34 200.80,277.80" fill="#0a0a0a" fill-opacity="0.8" filter="url(#bl)" transform="rotate(0 210.00 277.50)"/>
<line x1="79.60" y1="291.00" x2="237.90" y2="291.00" stroke="#222" stroke-width="1.2" />
<line x1="237.90" y1="291.00" x2="237.90" y2="395.90" stroke="#222" stroke-width="1.2" />
<line x1="79.60" y1="291.00" x2="79.60" y2="395.90" stroke="#222" stroke-width="1.3" />
<line x1="79.10" y1="395.90" x2="237.90" y2="395.90" stroke="#222" stroke-width="1.6" />
<line x1="77.20" y1="371.95" x2="79.60" y2="371.95" stroke="#222" stroke-width="1.1" />
<text x="71.80" y="375.35" font-size="9.5" text-anchor="end" font-weight="normal" fill="#000" stroke="#000" stroke-width="0.4" >4000</text>
<line x1="77.20" y1="348.40" x2="79.60" y2="348.40" stroke="#222" stroke-width="1.1" />
<text x="71.80" y="351.80" font-size="9.5" text-anchor="end" font-weight="normal" fill="#000" stroke="#000" stroke-width="0.4" >8000</text>
<line x1="77.20" y1="324.84" x2="79.60" y2="324.84" stroke="#222" stroke-width="1.1" />
<text x="71.80" y="328.24" font-size="9.5" text-anchor="end" font-weight="normal" fill="#000" stroke="#000" stroke-width="0.4" >12000</text>
<line x1="77.20" y1="301.29" x2="79.60" y2="301.29" stroke="#222" stroke-width="1.1" />
<text x="71.80" y="304.69" font-size="9.5" text-anchor="end" font-weight="normal" fill="#000" stroke="#000" stroke-width="0.4" >16000</text>
<text x="76.00" y="397.00" font-size="9.5" text-anchor="end" font-weight="normal" fill="#000" stroke="#000" stroke-width="0.4" >0</text>
<text x="80.60" y="405.80" font-size="9.5" text-anchor="middle" font-weight="normal" fill="#000" stroke="#000" stroke-width="0.4" >0</text>
<text x="106.50" y="405.80" font-size="9.5" text-anchor="middle" font-weight="normal" fill="#000" stroke="#000" stroke-width="0.4" >20</text>
<text x="131.60" y="405.80" font-size="9.5" text-anchor="middle" font-weight="normal" fill="#000" stroke="#000" stroke-width="0.4" >40</text>
<text x="157.30" y="405.80" font-size="9.5" text-anchor="middle" font-weight="normal" fill="#000" stroke="#000" stroke-width="0.4" >60</text>
<text x="182.70" y="405.80" font-size="9.5" text-anchor="middle" font-weight="normal" fill="#000" stroke="#000" stroke-width="0.4" >80</text>
<text x="208.30" y="405.80" font-size="9.5" text-anchor="middle" font-weight="normal" fill="#000" stroke="#000" stroke-width="0.4" >100</text>
<text x="230.30" y="405.80" font-size="9.5" text-anchor="middle" font-weight="normal" fill="#000" stroke="#000" stroke-width="0.4" >120</text>
<text x="144.80" y="417.20" font-size="8.9" text-anchor="middle" font-weight="normal" fill="#000" stroke="#000" stroke-width="0.4" >Time (min)</text>
<text x="0.00" y="0.00" font-size="9.75" text-anchor="middle" font-weight="normal" fill="#000" stroke="#000" stroke-width="0.4" transform="translate(27.2 350.2) rotate(-90)">Densitometry</text>
<text x="0.00" y="0.00" font-size="10.1" text-anchor="middle" font-weight="normal" fill="#000" stroke="#000" stroke-width="0.4" transform="translate(37.9 348.6) rotate(-90)">(relative units)</text>
<rect x="166.20" y="297.30" width="53.80" height="27.90" fill="#fff" stroke="#222" stroke-width="1.4" />
<circle cx="171.80" cy="307.90" r="2.9" fill="#000"/>
<circle cx="171.80" cy="318.10" r="2.6" fill="#fff" stroke="#000" stroke-width="1.1"/>
<text x="176.50" y="308.80" font-size="9.4" text-anchor="start" font-weight="normal" fill="#000" stroke="#000" stroke-width="0.5" >p47</text>
<text x="192.80" y="305.00" font-size="6.6" text-anchor="start" font-weight="normal" fill="#000" stroke="#000" stroke-width="0.3" >phox</text>
<text x="176.50" y="319.30" font-size="9.4" text-anchor="start" font-weight="normal" fill="#000" stroke="#000" stroke-width="0.5" >p67</text>
<text x="192.80" y="316.30" font-size="6.6" text-anchor="start" font-weight="normal" fill="#000" stroke="#000" stroke-width="0.3" >phox</text>
<polyline points="83.00,389.50 95.00,319.50 107.50,316.00 120.90,304.40 133.10,328.00 158.20,327.70 233.60,340.20" fill="none" stroke="#000" stroke-width="1.4" stroke-linejoin="round"/>
<polyline points="83.00,382.50 95.00,297.50 107.50,341.80 120.90,352.00 133.10,360.80 158.20,360.90 233.60,362.00" fill="none" stroke="#000" stroke-width="1.4" stroke-linejoin="round"/>
<line x1="95.00" y1="319.50" x2="95.00" y2="314.70" stroke="#000" stroke-width="1.1" />
<line x1="91.00" y1="314.70" x2="99.00" y2="314.70" stroke="#000" stroke-width="1.3" />
<line x1="107.50" y1="316.00" x2="107.50" y2="308.00" stroke="#000" stroke-width="1.1" />
<line x1="104.20" y1="308.00" x2="110.80" y2="308.00" stroke="#000" stroke-width="1.3" />
<line x1="120.90" y1="304.40" x2="120.90" y2="299.60" stroke="#000" stroke-width="1.1" />
<line x1="117.60" y1="299.60" x2="124.20" y2="299.60" stroke="#000" stroke-width="1.3" />
<line x1="133.10" y1="328.00" x2="133.10" y2="323.50" stroke="#000" stroke-width="1.1" />
<line x1="129.80" y1="323.50" x2="136.40" y2="323.50" stroke="#000" stroke-width="1.3" />
<line x1="158.20" y1="327.70" x2="158.20" y2="324.20" stroke="#000" stroke-width="1.1" />
<line x1="154.90" y1="324.20" x2="161.50" y2="324.20" stroke="#000" stroke-width="1.3" />
<line x1="233.60" y1="340.20" x2="233.60" y2="335.70" stroke="#000" stroke-width="1.1" />
<line x1="230.30" y1="335.70" x2="236.90" y2="335.70" stroke="#000" stroke-width="1.3" />
<line x1="95.00" y1="297.50" x2="95.00" y2="292.50" stroke="#000" stroke-width="1.1" />
<line x1="91.70" y1="292.50" x2="98.30" y2="292.50" stroke="#000" stroke-width="1.3" />
<line x1="107.50" y1="341.80" x2="107.50" y2="338.10" stroke="#000" stroke-width="1.1" />
<line x1="104.20" y1="338.10" x2="110.80" y2="338.10" stroke="#000" stroke-width="1.3" />
<line x1="120.90" y1="352.00" x2="120.90" y2="346.30" stroke="#000" stroke-width="1.1" />
<line x1="117.60" y1="346.30" x2="124.20" y2="346.30" stroke="#000" stroke-width="1.3" />
<line x1="133.10" y1="360.80" x2="133.10" y2="355.00" stroke="#000" stroke-width="1.1" />
<line x1="129.80" y1="355.00" x2="136.40" y2="355.00" stroke="#000" stroke-width="1.3" />
<line x1="158.20" y1="360.90" x2="158.20" y2="355.00" stroke="#000" stroke-width="1.1" />
<line x1="154.90" y1="355.00" x2="161.50" y2="355.00" stroke="#000" stroke-width="1.3" />
<line x1="233.60" y1="362.00" x2="233.60" y2="354.00" stroke="#000" stroke-width="1.1" />
<line x1="230.30" y1="354.00" x2="236.90" y2="354.00" stroke="#000" stroke-width="1.3" />
<circle cx="83.00" cy="382.50" r="2.9" fill="#fff" stroke="#000" stroke-width="1.1"/>
<circle cx="95.00" cy="297.50" r="2.9" fill="#fff" stroke="#000" stroke-width="1.1"/>
<circle cx="107.50" cy="341.80" r="2.9" fill="#fff" stroke="#000" stroke-width="1.1"/>
<circle cx="120.90" cy="352.00" r="2.9" fill="#fff" stroke="#000" stroke-width="1.1"/>
<circle cx="133.10" cy="360.80" r="2.9" fill="#fff" stroke="#000" stroke-width="1.1"/>
<circle cx="158.20" cy="360.90" r="2.9" fill="#fff" stroke="#000" stroke-width="1.1"/>
<circle cx="233.60" cy="362.00" r="2.9" fill="#fff" stroke="#000" stroke-width="1.1"/>
<circle cx="83.00" cy="389.50" r="3.0" fill="#000"/>
<circle cx="95.00" cy="319.50" r="3.0" fill="#000"/>
<circle cx="107.50" cy="316.00" r="3.0" fill="#000"/>
<circle cx="120.90" cy="304.40" r="3.0" fill="#000"/>
<circle cx="133.10" cy="328.00" r="3.0" fill="#000"/>
<circle cx="158.20" cy="327.70" r="3.0" fill="#000"/>
<circle cx="233.60" cy="340.20" r="3.0" fill="#000"/>
<text x="269.20" y="80.20" font-size="24" text-anchor="start" font-weight="bold" fill="#000" stroke="#000" stroke-width="0.3" >C</text>
<text x="287.30" y="94.80" font-size="12.6" text-anchor="start" font-weight="normal" fill="#000" stroke="#000" stroke-width="0.5" >Ang (nM)</text>
<text x="349.60" y="95.80" font-size="12.6" text-anchor="middle" font-weight="normal" fill="#000" stroke="#000" stroke-width="0.5" >0</text>
<text x="368.30" y="95.80" font-size="12.6" text-anchor="middle" font-weight="normal" fill="#000" stroke="#000" stroke-width="0.5" >10</text>
<text x="389.40" y="95.80" font-size="12.6" text-anchor="middle" font-weight="normal" fill="#000" stroke="#000" stroke-width="0.5" >100</text>
<text x="418.00" y="95.80" font-size="12.6" text-anchor="middle" font-weight="normal" fill="#000" stroke="#000" stroke-width="0.5" >1000</text>
<text x="439.80" y="95.80" font-size="12.6" text-anchor="middle" font-weight="normal" fill="#000" stroke="#000" stroke-width="0.5" >0</text>
<text x="454.10" y="95.80" font-size="12.6" text-anchor="middle" font-weight="normal" fill="#000" stroke="#000" stroke-width="0.5" >10</text>
<text x="475.70" y="95.80" font-size="12.6" text-anchor="middle" font-weight="normal" fill="#000" stroke="#000" stroke-width="0.5" >100</text>
<text x="504.20" y="95.80" font-size="12.6" text-anchor="middle" font-weight="normal" fill="#000" stroke="#000" stroke-width="0.5" >1000</text>
<rect x="341.00" y="98.10" width="176.70" height="15.40" fill="#fdfdfd" stroke="#1a1a1a" stroke-width="1.5" />
<rect x="339.30" y="115.00" width="178.60" height="11.80" fill="#fdfdfd" stroke="#1a1a1a" stroke-width="1.5" />
<text x="277.50" y="109.80" font-size="12.0" text-anchor="start" font-weight="normal" fill="#000" stroke="#000" stroke-width="0.5" >p67</text>
<text x="299.50" y="105.80" font-size="8.7" text-anchor="start" font-weight="normal" fill="#000" stroke="#000" stroke-width="0.4" >phox</text>
<text x="276.10" y="130.30" font-size="12.0" text-anchor="start" font-weight="normal" fill="#000" stroke="#000" stroke-width="0.5" >p47</text>
<text x="297.90" y="126.40" font-size="8.7" text-anchor="start" font-weight="normal" fill="#000" stroke="#000" stroke-width="0.4" >phox</text>
<line x1="322.80" y1="105.30" x2="332.20" y2="105.30" stroke="#000" stroke-width="1.9" />
<polygon points="340.00,105.30 331.20,101.30 331.20,109.30" fill="#000"/>
<line x1="324.30" y1="121.80" x2="331.20" y2="121.80" stroke="#000" stroke-width="1.9" />
<polygon points="339.00,121.80 330.20,117.80 330.20,125.80" fill="#000"/>
<text x="274.00" y="141.90" font-size="12.7" text-anchor="start" font-weight="normal" fill="#000" stroke="#000" stroke-width="0.5" >PD098059</text>
<line x1="344.20" y1="137.10" x2="351.80" y2="137.10" stroke="#000" stroke-width="1.4" />
<line x1="362.20" y1="137.10" x2="369.80" y2="137.10" stroke="#000" stroke-width="1.4" />
<line x1="386.20" y1="137.10" x2="393.80" y2="137.10" stroke="#000" stroke-width="1.4" />
<line x1="411.60" y1="137.10" x2="419.20" y2="137.10" stroke="#000" stroke-width="1.4" />
<line x1="436.20" y1="137.50" x2="443.40" y2="137.50" stroke="#000" stroke-width="1.5" />
<line x1="439.80" y1="133.90" x2="439.80" y2="141.10" stroke="#000" stroke-width="1.5" />
<line x1="454.90" y1="137.50" x2="462.10" y2="137.50" stroke="#000" stroke-width="1.5" />
<line x1="458.50" y1="133.90" x2="458.50" y2="141.10" stroke="#000" stroke-width="1.5" />
<line x1="477.00" y1="137.50" x2="484.20" y2="137.50" stroke="#000" stroke-width="1.5" />
<line x1="480.60" y1="133.90" x2="480.60" y2="141.10" stroke="#000" stroke-width="1.5" />
<line x1="502.90" y1="137.50" x2="510.10" y2="137.50" stroke="#000" stroke-width="1.5" />
<line x1="506.50" y1="133.90" x2="506.50" y2="141.10" stroke="#000" stroke-width="1.5" />
<polygon points="343.20,104.90 343.73,103.78 344.25,103.59 344.78,103.49 345.30,103.42 345.83,103.38 346.36,103.35 346.88,103.34 347.41,103.33 347.93,103.33 348.46,103.34 348.99,103.34 349.51,103.36 350.04,103.37 350.57,103.39 351.09,103.41 351.62,103.44 352.14,103.48 352.67,103.52 353.20,103.58 353.72,103.65 354.25,103.75 354.77,103.89 355.30,104.60 355.30,104.60 354.77,105.33 354.25,105.50 353.72,105.63 353.20,105.72 352.67,105.81 352.14,105.88 351.62,105.94 351.09,106.00 350.57,106.04 350.04,106.09 349.51,106.13 348.99,106.17 348.46,106.20 347.93,106.23 347.41,106.26 346.88,106.28 346.36,106.29 345.83,106.29 345.30,106.27 344.78,106.23 344.25,106.15 343.73,105.99 343.20,104.90" fill="#0a0a0a" fill-opacity="1" filter="url(#bl)" transform="rotate(0 349.25 104.75)"/>
<polygon points="362.20,105.40 362.95,104.04 363.70,103.82 364.46,103.70 365.21,103.62 365.96,103.57 366.71,103.55 367.47,103.54 368.22,103.54 368.97,103.55 369.72,103.56 370.47,103.59 371.23,103.61 371.98,103.65 372.73,103.68 373.48,103.73 374.23,103.78 374.99,103.84 375.74,103.92 376.49,104.01 377.24,104.13 378.00,104.29 378.75,104.51 379.50,105.60 379.50,105.60 378.75,106.67 378.00,106.88 377.24,107.01 376.49,107.12 375.74,107.19 374.99,107.25 374.23,107.30 373.48,107.33 372.73,107.36 371.98,107.38 371.23,107.39 370.47,107.40 369.72,107.41 368.97,107.41 368.22,107.40 367.47,107.39 366.71,107.36 365.96,107.32 365.21,107.25 364.46,107.16 363.70,107.01 362.95,106.78 362.20,105.40" fill="#0a0a0a" fill-opacity="1" filter="url(#bl)" transform="rotate(0 370.85 105.50)"/>
<polygon points="382.10,106.20 382.89,104.93 383.68,104.67 384.47,104.49 385.27,104.36 386.06,104.26 386.85,104.17 387.64,104.10 388.43,104.05 389.22,104.00 390.01,103.95 390.80,103.92 391.60,103.88 392.39,103.86 393.18,103.83 393.97,103.82 394.76,103.81 395.55,103.82 396.34,103.84 397.13,103.88 397.93,103.95 398.72,104.07 399.51,104.28 400.30,105.60 400.30,105.60 399.51,106.97 398.72,107.23 397.93,107.40 397.13,107.53 396.34,107.62 395.55,107.69 394.76,107.75 393.97,107.80 393.18,107.83 392.39,107.86 391.60,107.89 390.80,107.91 390.01,107.92 389.22,107.93 388.43,107.94 387.64,107.93 386.85,107.91 386.06,107.88 385.27,107.83 384.47,107.75 383.68,107.63 382.89,107.42 382.10,106.20" fill="#0a0a0a" fill-opacity="1" filter="url(#bl)" transform="rotate(0 391.20 105.90)"/>
<polygon points="404.60,106.00 405.39,104.41 406.18,104.11 406.97,103.92 407.77,103.79 408.56,103.69 409.35,103.61 410.14,103.55 410.93,103.50 411.72,103.47 412.51,103.44 413.30,103.41 414.10,103.39 414.89,103.38 415.68,103.37 416.47,103.36 417.26,103.37 418.05,103.39 418.84,103.43 419.63,103.48 420.43,103.57 421.22,103.71 422.01,103.95 422.80,105.40 422.80,105.40 422.01,106.90 421.22,107.19 420.43,107.38 419.63,107.52 418.84,107.63 418.05,107.72 417.26,107.79 416.47,107.85 415.68,107.90 414.89,107.95 414.10,107.98 413.30,108.02 412.51,108.04 411.72,108.06 410.93,108.08 410.14,108.08 409.35,108.08 408.56,108.05 407.77,108.00 406.97,107.92 406.18,107.79 405.39,107.54 404.60,106.00" fill="#0a0a0a" fill-opacity="1" filter="url(#bl)" transform="rotate(0 413.70 105.70)"/>
<polygon points="500.40,109.00 500.97,108.37 501.53,108.23 502.10,108.13 502.66,108.06 503.23,108.00 503.79,107.96 504.36,107.92 504.92,107.88 505.49,107.85 506.05,107.83 506.62,107.81 507.18,107.79 507.75,107.78 508.31,107.77 508.88,107.76 509.44,107.76 510.01,107.76 510.57,107.78 511.14,107.80 511.70,107.84 512.27,107.90 512.83,108.00 513.40,108.60 513.40,108.60 512.83,109.23 512.27,109.37 511.70,109.47 511.14,109.54 510.57,109.60 510.01,109.64 509.44,109.68 508.88,109.72 508.31,109.75 507.75,109.77 507.18,109.79 506.62,109.81 506.05,109.82 505.49,109.83 504.92,109.84 504.36,109.84 503.79,109.84 503.23,109.82 502.66,109.80 502.10,109.76 501.53,109.70 500.97,109.60 500.40,109.00" fill="#0a0a0a" fill-opacity="0.4" filter="url(#bl)" transform="rotate(0 506.90 108.80)"/>
<polygon points="382.60,107.50 382.81,106.98 383.03,106.86 383.24,106.79 383.45,106.75 383.67,106.74 383.88,106.74 384.09,106.76 384.30,106.80 384.52,106.86 384.73,106.92 384.94,107.01 385.16,107.10 385.37,107.20 385.58,107.31 385.80,107.44 386.01,107.58 386.22,107.74 386.43,107.92 386.65,108.12 386.86,108.35 387.07,108.60 387.29,108.89 387.50,109.60 387.50,109.60 387.29,110.12 387.07,110.24 386.86,110.31 386.65,110.35 386.43,110.36 386.22,110.36 386.01,110.34 385.80,110.30 385.58,110.24 385.37,110.18 385.16,110.09 384.94,110.00 384.73,109.90 384.52,109.79 384.30,109.66 384.09,109.52 383.88,109.36 383.67,109.18 383.45,108.98 383.24,108.75 383.03,108.50 382.81,108.21 382.60,107.50" fill="#0a0a0a" fill-opacity="1" filter="url(#bl)" transform="rotate(0 385.05 108.55)"/>
<polygon points="404.80,107.20 404.98,106.63 405.17,106.51 405.35,106.45 405.53,106.42 405.71,106.41 405.90,106.42 406.08,106.45 406.26,106.51 406.44,106.57 406.63,106.66 406.81,106.75 406.99,106.85 407.17,106.97 407.36,107.10 407.54,107.24 407.72,107.39 407.90,107.57 408.09,107.76 408.27,107.98 408.45,108.22 408.63,108.49 408.82,108.82 409.00,109.60 409.00,109.60 408.82,110.17 408.63,110.29 408.45,110.35 408.27,110.38 408.09,110.39 407.90,110.38 407.72,110.35 407.54,110.29 407.36,110.23 407.17,110.14 406.99,110.05 406.81,109.95 406.63,109.83 406.44,109.70 406.26,109.56 406.08,109.41 405.90,109.23 405.71,109.04 405.53,108.82 405.35,108.58 405.17,108.31 404.98,107.98 404.80,107.20" fill="#0a0a0a" fill-opacity="1" filter="url(#bl)" transform="rotate(0 406.90 108.40)"/>
<polygon points="343.20,122.90 343.40,122.44 343.60,122.35 343.80,122.30 344.00,122.26 344.20,122.23 344.40,122.21 344.60,122.19 344.80,122.18 345.00,122.17 345.20,122.16 345.40,122.15 345.60,122.15 345.80,122.15 346.00,122.14 346.20,122.15 346.40,122.15 346.60,122.16 346.80,122.17 347.00,122.19 347.20,122.22 347.40,122.27 347.60,122.35 347.80,122.80 347.80,122.80 347.60,123.26 347.40,123.35 347.20,123.40 347.00,123.44 346.80,123.47 346.60,123.49 346.40,123.51 346.20,123.52 346.00,123.53 345.80,123.54 345.60,123.55 345.40,123.55 345.20,123.55 345.00,123.56 344.80,123.55 344.60,123.55 344.40,123.54 344.20,123.53 344.00,123.51 343.80,123.48 343.60,123.43 343.40,123.35 343.20,122.90" fill="#0a0a0a" fill-opacity="0.6" filter="url(#bl)" transform="rotate(0 345.50 122.85)"/>
<polygon points="354.20,122.90 354.33,122.45 354.46,122.39 354.59,122.35 354.72,122.33 354.85,122.32 354.98,122.31 355.11,122.30 355.24,122.30 355.37,122.30 355.50,122.30 355.63,122.30 355.77,122.30 355.90,122.30 356.03,122.30 356.16,122.30 356.29,122.30 356.42,122.31 356.55,122.32 356.68,122.33 356.81,122.35 356.94,122.39 357.07,122.45 357.20,122.90 357.20,122.90 357.07,123.35 356.94,123.41 356.81,123.45 356.68,123.47 356.55,123.48 356.42,123.49 356.29,123.50 356.16,123.50 356.03,123.50 355.90,123.50 355.77,123.50 355.63,123.50 355.50,123.50 355.37,123.50 355.24,123.50 355.11,123.50 354.98,123.49 354.85,123.48 354.72,123.47 354.59,123.45 354.46,123.41 354.33,123.35 354.20,122.90" fill="#0a0a0a" fill-opacity="0.5" filter="url(#bl)" transform="rotate(0 355.70 122.90)"/>
<polygon points="377.20,121.60 377.33,121.15 377.46,121.09 377.59,121.05 377.72,121.03 377.85,121.02 377.98,121.01 378.11,121.00 378.24,121.00 378.37,121.00 378.50,121.00 378.63,121.00 378.77,121.00 378.90,121.00 379.03,121.00 379.16,121.00 379.29,121.00 379.42,121.01 379.55,121.02 379.68,121.03 379.81,121.05 379.94,121.09 380.07,121.15 380.20,121.60 380.20,121.60 380.07,122.05 379.94,122.11 379.81,122.15 379.68,122.17 379.55,122.18 379.42,122.19 379.29,122.20 379.16,122.20 379.03,122.20 378.90,122.20 378.77,122.20 378.63,122.20 378.50,122.20 378.37,122.20 378.24,122.20 378.11,122.20 377.98,122.19 377.85,122.18 377.72,122.17 377.59,122.15 377.46,122.11 377.33,122.05 377.20,121.60" fill="#0a0a0a" fill-opacity="0.5" filter="url(#bl)" transform="rotate(0 378.70 121.60)"/>
<polygon points="384.70,122.00 385.87,121.52 387.03,121.36 388.20,121.24 389.36,121.12 390.53,121.02 391.69,120.93 392.86,120.84 394.02,120.76 395.19,120.68 396.35,120.60 397.52,120.53 398.68,120.47 399.85,120.40 401.01,120.34 402.18,120.29 403.34,120.23 404.51,120.19 405.67,120.15 406.84,120.12 408.00,120.10 409.17,120.11 410.33,120.14 411.50,120.60 411.50,120.60 410.33,121.18 409.17,121.34 408.00,121.46 406.84,121.57 405.67,121.66 404.51,121.74 403.34,121.82 402.18,121.89 401.01,121.95 399.85,122.01 398.68,122.07 397.52,122.13 396.35,122.18 395.19,122.23 394.02,122.27 392.86,122.31 391.69,122.34 390.53,122.37 389.36,122.39 388.20,122.40 387.03,122.39 385.87,122.36 384.70,122.00" fill="#0a0a0a" fill-opacity="0.8" filter="url(#bl)" transform="rotate(0 398.10 121.30)"/>
<polygon points="413.00,120.20 413.84,119.68 414.68,119.56 415.52,119.47 416.36,119.40 417.20,119.35 418.03,119.30 418.87,119.26 419.71,119.23 420.55,119.20 421.39,119.18 422.23,119.16 423.07,119.14 423.91,119.13 424.75,119.12 425.59,119.11 426.43,119.11 427.27,119.11 428.10,119.12 428.94,119.14 429.78,119.18 430.62,119.23 431.46,119.31 432.30,119.80 432.30,119.80 431.46,120.32 430.62,120.44 429.78,120.53 428.94,120.60 428.10,120.65 427.27,120.70 426.43,120.74 425.59,120.77 424.75,120.80 423.91,120.82 423.07,120.84 422.23,120.86 421.39,120.87 420.55,120.88 419.71,120.89 418.87,120.89 418.03,120.89 417.20,120.88 416.36,120.86 415.52,120.82 414.68,120.77 413.84,120.69 413.00,120.20" fill="#0a0a0a" fill-opacity="0.9" filter="url(#bl)" transform="rotate(0 422.65 120.00)"/>
<polygon points="450.80,120.00 451.27,119.45 451.73,119.33 452.20,119.25 452.66,119.19 453.13,119.14 453.59,119.11 454.06,119.08 454.52,119.05 454.99,119.03 455.45,119.02 455.92,119.00 456.38,119.00 456.85,118.99 457.31,118.99 457.78,118.99 458.24,119.00 458.71,119.01 459.17,119.03 459.64,119.06 460.10,119.10 460.57,119.17 461.03,119.27 461.50,119.80 461.50,119.80 461.03,120.35 460.57,120.47 460.10,120.55 459.64,120.61 459.17,120.66 458.71,120.69 458.24,120.72 457.78,120.75 457.31,120.77 456.85,120.78 456.38,120.80 455.92,120.80 455.45,120.81 454.99,120.81 454.52,120.81 454.06,120.80 453.59,120.79 453.13,120.77 452.66,120.74 452.20,120.70 451.73,120.63 451.27,120.53 450.80,120.00" fill="#0a0a0a" fill-opacity="0.85" filter="url(#bl)" transform="rotate(0 456.15 119.90)"/>
<polygon points="470.40,120.00 470.93,119.41 471.45,119.29 471.98,119.21 472.50,119.14 473.03,119.10 473.56,119.06 474.08,119.03 474.61,119.00 475.13,118.98 475.66,118.97 476.19,118.95 476.71,118.95 477.24,118.94 477.77,118.94 478.29,118.94 478.82,118.95 479.34,118.96 479.87,118.98 480.40,119.01 480.92,119.06 481.45,119.12 481.97,119.23 482.50,119.80 482.50,119.80 481.97,120.39 481.45,120.51 480.92,120.59 480.40,120.66 479.87,120.70 479.34,120.74 478.82,120.77 478.29,120.80 477.77,120.82 477.24,120.83 476.71,120.85 476.19,120.85 475.66,120.86 475.13,120.86 474.61,120.86 474.08,120.85 473.56,120.84 473.03,120.82 472.50,120.79 471.98,120.74 471.45,120.68 470.93,120.57 470.40,120.00" fill="#0a0a0a" fill-opacity="0.9" filter="url(#bl)" transform="rotate(0 476.45 119.90)"/>
<polygon points="494.60,119.40 495.31,118.77 496.03,118.63 496.74,118.53 497.45,118.46 498.17,118.40 498.88,118.36 499.59,118.32 500.30,118.28 501.02,118.25 501.73,118.23 502.44,118.21 503.16,118.19 503.87,118.18 504.58,118.17 505.30,118.16 506.01,118.16 506.72,118.16 507.43,118.18 508.15,118.20 508.86,118.24 509.57,118.30 510.29,118.40 511.00,119.00 511.00,119.00 510.29,119.63 509.57,119.77 508.86,119.87 508.15,119.94 507.43,120.00 506.72,120.04 506.01,120.08 505.30,120.12 504.58,120.15 503.87,120.17 503.16,120.19 502.44,120.21 501.73,120.22 501.02,120.23 500.30,120.24 499.59,120.24 498.88,120.24 498.17,120.22 497.45,120.20 496.74,120.16 496.03,120.10 495.31,120.00 494.60,119.40" fill="#0a0a0a" fill-opacity="0.9" filter="url(#bl)" transform="rotate(0 502.80 119.20)"/>
<line x1="345.60" y1="179.00" x2="345.60" y2="302.10" stroke="#444" stroke-width="1.4" />
<line x1="346.20" y1="302.10" x2="512.50" y2="302.10" stroke="#111" stroke-width="1.3" />
<line x1="343.20" y1="301.90" x2="346.20" y2="301.90" stroke="#222" stroke-width="1" />
<text x="342.00" y="305.90" font-size="9.4" text-anchor="end" font-weight="normal" fill="#000" stroke="#000" stroke-width="0.4" >0</text>
<line x1="343.20" y1="281.55" x2="346.20" y2="281.55" stroke="#222" stroke-width="1" />
<text x="342.00" y="285.55" font-size="9.4" text-anchor="end" font-weight="normal" fill="#000" stroke="#000" stroke-width="0.4" >5000</text>
<line x1="343.20" y1="261.20" x2="346.20" y2="261.20" stroke="#222" stroke-width="1" />
<text x="342.00" y="265.20" font-size="9.4" text-anchor="end" font-weight="normal" fill="#000" stroke="#000" stroke-width="0.4" >10000</text>
<line x1="343.20" y1="240.85" x2="346.20" y2="240.85" stroke="#222" stroke-width="1" />
<text x="342.00" y="244.85" font-size="9.4" text-anchor="end" font-weight="normal" fill="#000" stroke="#000" stroke-width="0.4" >15000</text>
<line x1="343.20" y1="220.50" x2="346.20" y2="220.50" stroke="#222" stroke-width="1" />
<text x="342.00" y="224.50" font-size="9.4" text-anchor="end" font-weight="normal" fill="#000" stroke="#000" stroke-width="0.4" >20000</text>
<line x1="343.20" y1="200.15" x2="346.20" y2="200.15" stroke="#222" stroke-width="1" />
<text x="342.00" y="204.15" font-size="9.4" text-anchor="end" font-weight="normal" fill="#000" stroke="#000" stroke-width="0.4" >25000</text>
<line x1="343.20" y1="179.80" x2="346.20" y2="179.80" stroke="#222" stroke-width="1" />
<text x="342.00" y="183.80" font-size="9.4" text-anchor="end" font-weight="normal" fill="#000" stroke="#000" stroke-width="0.4" >30000</text>
<text x="0.00" y="0.00" font-size="9.7" text-anchor="middle" font-weight="normal" fill="#000" stroke="#000" stroke-width="0.4" transform="translate(311.7 236.2) rotate(-90)">Densitometry (relative units)</text>
<rect x="349.30" y="265.27" width="9.00" height="36.83" fill="#fff" stroke="#2a2a2a" stroke-width="1.1" />
<line x1="353.80" y1="265.27" x2="353.80" y2="260.39" stroke="#000" stroke-width="1.1" />
<line x1="350.80" y1="260.39" x2="356.80" y2="260.39" stroke="#000" stroke-width="1.3" />
<rect x="360.70" y="253.06" width="8.30" height="49.04" fill="#000" stroke="#000" stroke-width="1.1" />
<line x1="364.85" y1="253.06" x2="364.85" y2="247.77" stroke="#000" stroke-width="1.1" />
<line x1="361.85" y1="247.77" x2="367.85" y2="247.77" stroke="#000" stroke-width="1.3" />
<rect x="371.40" y="230.67" width="7.90" height="71.43" fill="#000" stroke="#000" stroke-width="1.1" />
<line x1="375.35" y1="230.67" x2="375.35" y2="225.38" stroke="#000" stroke-width="1.1" />
<line x1="372.35" y1="225.38" x2="378.35" y2="225.38" stroke="#000" stroke-width="1.3" />
<rect x="381.70" y="231.08" width="7.60" height="71.02" fill="#000" stroke="#000" stroke-width="1.1" />
<line x1="385.50" y1="231.08" x2="385.50" y2="229.05" stroke="#000" stroke-width="1.1" />
<line x1="382.50" y1="229.05" x2="388.50" y2="229.05" stroke="#000" stroke-width="1.3" />
<rect x="391.10" y="298.97" width="7.40" height="3.13" fill="#bbb" stroke="#2a2a2a" stroke-width="1.1" />
<rect x="400.90" y="301.66" width="5.90" height="0.44" fill="#fff" stroke="#2a2a2a" stroke-width="1.1" />
<rect x="410.20" y="299.05" width="6.70" height="3.05" fill="#bbb" stroke="#2a2a2a" stroke-width="1.1" />
<rect x="419.60" y="298.11" width="8.20" height="3.99" fill="#000" stroke="#000" stroke-width="1.1" />
<rect x="431.00" y="275.85" width="8.50" height="26.25" fill="#fff" stroke="#2a2a2a" stroke-width="1.1" />
<line x1="435.25" y1="275.85" x2="435.25" y2="272.19" stroke="#000" stroke-width="1.1" />
<line x1="432.25" y1="272.19" x2="438.25" y2="272.19" stroke="#000" stroke-width="1.3" />
<rect x="441.30" y="274.22" width="8.30" height="27.88" fill="#acacac" stroke="#2a2a2a" stroke-width="1.1" />
<line x1="445.45" y1="274.22" x2="445.45" y2="273.41" stroke="#000" stroke-width="1.1" />
<line x1="442.45" y1="273.41" x2="448.45" y2="273.41" stroke="#000" stroke-width="1.3" />
<rect x="452.30" y="198.11" width="8.50" height="103.99" fill="#acacac" stroke="#2a2a2a" stroke-width="1.1" />
<line x1="456.55" y1="198.11" x2="456.55" y2="195.67" stroke="#000" stroke-width="1.1" />
<line x1="453.55" y1="195.67" x2="459.55" y2="195.67" stroke="#000" stroke-width="1.3" />
<rect x="462.30" y="206.66" width="8.00" height="95.44" fill="#acacac" stroke="#2a2a2a" stroke-width="1.1" />
<line x1="466.30" y1="206.66" x2="466.30" y2="200.56" stroke="#000" stroke-width="1.1" />
<line x1="463.30" y1="200.56" x2="469.30" y2="200.56" stroke="#000" stroke-width="1.3" />
<rect x="470.80" y="301.09" width="6.10" height="1.01" fill="#acacac" stroke="#2a2a2a" stroke-width="1.1" />
<line x1="473.85" y1="301.09" x2="473.85" y2="300.68" stroke="#000" stroke-width="1.1" />
<line x1="470.85" y1="300.68" x2="476.85" y2="300.68" stroke="#000" stroke-width="1.3" />
<rect x="479.30" y="238.00" width="8.50" height="64.10" fill="#acacac" stroke="#2a2a2a" stroke-width="1.1" />
<line x1="483.55" y1="238.00" x2="483.55" y2="236.78" stroke="#000" stroke-width="1.1" />
<line x1="480.55" y1="236.78" x2="486.55" y2="236.78" stroke="#000" stroke-width="1.3" />
<rect x="489.80" y="248.58" width="8.10" height="53.52" fill="#acacac" stroke="#2a2a2a" stroke-width="1.1" />
<line x1="493.85" y1="248.58" x2="493.85" y2="243.29" stroke="#000" stroke-width="1.1" />
<line x1="490.85" y1="243.29" x2="496.85" y2="243.29" stroke="#000" stroke-width="1.3" />
<rect x="500.00" y="275.44" width="8.00" height="26.66" fill="#acacac" stroke="#2a2a2a" stroke-width="1.1" />
<line x1="504.00" y1="275.44" x2="504.00" y2="273.41" stroke="#000" stroke-width="1.1" />
<line x1="501.00" y1="273.41" x2="507.00" y2="273.41" stroke="#000" stroke-width="1.3" />
<text x="0.00" y="0.00" font-size="9.6" text-anchor="end" font-weight="normal" fill="#000" stroke="#000" stroke-width="0.45" letter-spacing="-0.45" transform="translate(356.70 307.6) rotate(-63)">0</text>
<text x="0.00" y="0.00" font-size="9.6" text-anchor="end" font-weight="normal" fill="#000" stroke="#000" stroke-width="0.45" letter-spacing="-0.45" transform="translate(367.75 307.6) rotate(-63)">10</text>
<text x="0.00" y="0.00" font-size="9.6" text-anchor="end" font-weight="normal" fill="#000" stroke="#000" stroke-width="0.45" letter-spacing="-0.45" transform="translate(378.25 307.6) rotate(-63)">100</text>
<text x="0.00" y="0.00" font-size="9.6" text-anchor="end" font-weight="normal" fill="#000" stroke="#000" stroke-width="0.45" letter-spacing="-0.45" transform="translate(388.40 307.6) rotate(-63)">1000</text>
<text x="0.00" y="0.00" font-size="9.6" text-anchor="end" font-weight="normal" fill="#000" stroke="#000" stroke-width="0.45" letter-spacing="-0.45" transform="translate(397.70 307.6) rotate(-63)">0</text>
<text x="0.00" y="0.00" font-size="9.6" text-anchor="end" font-weight="normal" fill="#000" stroke="#000" stroke-width="0.45" letter-spacing="-0.45" transform="translate(406.75 307.6) rotate(-63)">10</text>
<text x="0.00" y="0.00" font-size="9.6" text-anchor="end" font-weight="normal" fill="#000" stroke="#000" stroke-width="0.45" letter-spacing="-0.45" transform="translate(416.45 307.6) rotate(-63)">100</text>
<text x="0.00" y="0.00" font-size="9.6" text-anchor="end" font-weight="normal" fill="#000" stroke="#000" stroke-width="0.45" letter-spacing="-0.45" transform="translate(426.60 307.6) rotate(-63)">1000</text>
<text x="0.00" y="0.00" font-size="9.6" text-anchor="end" font-weight="normal" fill="#000" stroke="#000" stroke-width="0.45" letter-spacing="-0.45" transform="translate(438.15 307.6) rotate(-63)">0</text>
<text x="0.00" y="0.00" font-size="9.6" text-anchor="end" font-weight="normal" fill="#000" stroke="#000" stroke-width="0.45" letter-spacing="-0.45" transform="translate(448.35 307.6) rotate(-63)">10</text>
<text x="0.00" y="0.00" font-size="9.6" text-anchor="end" font-weight="normal" fill="#000" stroke="#000" stroke-width="0.45" letter-spacing="-0.45" transform="translate(459.45 307.6) rotate(-63)">100</text>
<text x="0.00" y="0.00" font-size="9.6" text-anchor="end" font-weight="normal" fill="#000" stroke="#000" stroke-width="0.45" letter-spacing="-0.45" transform="translate(469.20 307.6) rotate(-63)">1000</text>
<text x="0.00" y="0.00" font-size="9.6" text-anchor="end" font-weight="normal" fill="#000" stroke="#000" stroke-width="0.45" letter-spacing="-0.45" transform="translate(476.75 307.6) rotate(-63)">0</text>
<text x="0.00" y="0.00" font-size="9.6" text-anchor="end" font-weight="normal" fill="#000" stroke="#000" stroke-width="0.45" letter-spacing="-0.45" transform="translate(486.45 307.6) rotate(-63)">10</text>
<text x="0.00" y="0.00" font-size="9.6" text-anchor="end" font-weight="normal" fill="#000" stroke="#000" stroke-width="0.45" letter-spacing="-0.45" transform="translate(496.75 307.6) rotate(-63)">100</text>
<text x="0.00" y="0.00" font-size="9.6" text-anchor="end" font-weight="normal" fill="#000" stroke="#000" stroke-width="0.45" letter-spacing="-0.45" transform="translate(506.90 307.6) rotate(-63)">1000</text>
<text x="304.80" y="315.80" font-size="9.8" text-anchor="start" font-weight="normal" fill="#000" stroke="#000" stroke-width="0.4" >Ang (nM)</text>
<line x1="389.30" y1="324.00" x2="431.30" y2="324.00" stroke="#111" stroke-width="1.2" />
<line x1="471.00" y1="324.00" x2="512.80" y2="324.00" stroke="#111" stroke-width="1.2" />
<line x1="406.80" y1="328.40" x2="411.60" y2="328.40" stroke="#000" stroke-width="1.2" />
<line x1="409.20" y1="326.00" x2="409.20" y2="330.80" stroke="#000" stroke-width="1.2" />
<line x1="488.60" y1="328.40" x2="493.40" y2="328.40" stroke="#000" stroke-width="1.2" />
<line x1="491.00" y1="326.00" x2="491.00" y2="330.80" stroke="#000" stroke-width="1.2" />
<text x="384.80" y="343.00" font-size="9.5" text-anchor="start" font-weight="normal" fill="#000" stroke="#000" stroke-width="0.4" >PD098059</text>
<text x="467.10" y="343.00" font-size="9.5" text-anchor="start" font-weight="normal" fill="#000" stroke="#000" stroke-width="0.4" >PD098059</text>
</svg></body></html>
